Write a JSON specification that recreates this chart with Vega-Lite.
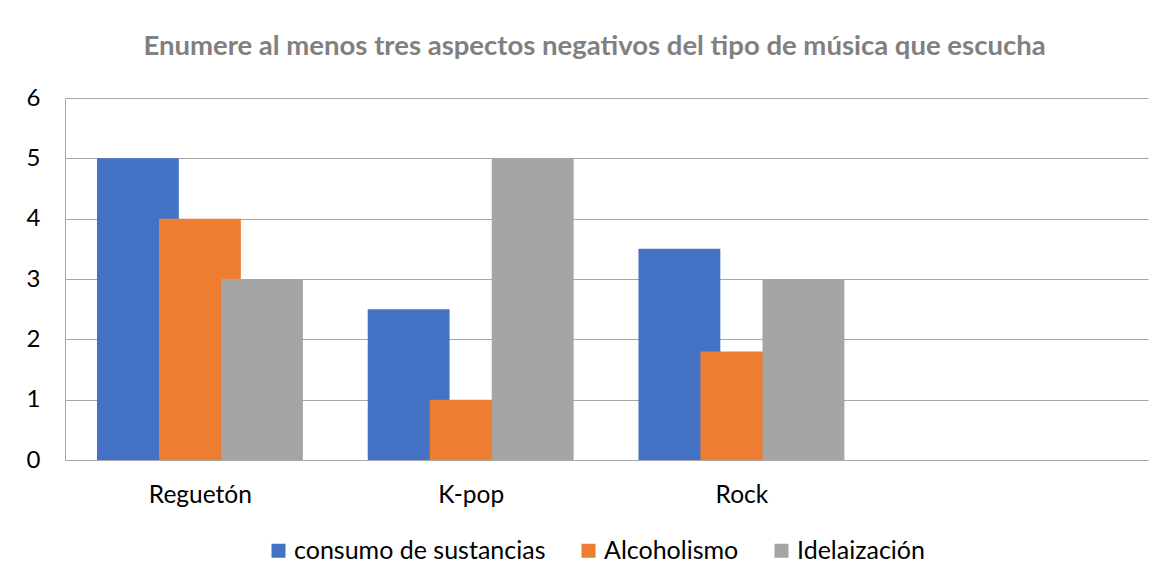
{
  "$schema": "https://vega.github.io/schema/vega-lite/v6.json",
  "width": 1083,
  "height": 362,
  "autosize": {"type": "none"},
  "padding": {"left": 65, "top": 98, "right": 23, "bottom": 126},
  "background": "white",
  "title": {
    "text": "Enumere al menos tres aspectos negativos del tipo de música que escucha",
    "font": "Lato",
    "fontSize": 27.5,
    "fontWeight": "bold",
    "color": "#808080",
    "anchor": "middle",
    "frame": "group",
    "baseline": "alphabetic",
    "offset": 4,
    "dx": -12
  },
  "data": {
    "values": [
      {"categoria": "Reguetón", "serie": "consumo de sustancias", "valor": 5},
      {"categoria": "Reguetón", "serie": "Alcoholismo", "valor": 4},
      {"categoria": "Reguetón", "serie": "Idelaización", "valor": 3},
      {"categoria": "K-pop", "serie": "consumo de sustancias", "valor": 2.5},
      {"categoria": "K-pop", "serie": "Alcoholismo", "valor": 1},
      {"categoria": "K-pop", "serie": "Idelaización", "valor": 5},
      {"categoria": "Rock", "serie": "consumo de sustancias", "valor": 3.5},
      {"categoria": "Rock", "serie": "Alcoholismo", "valor": 1.8},
      {"categoria": "Rock", "serie": "Idelaización", "valor": 3}
    ]
  },
  "mark": {"type": "bar", "width": {"band": 1.32}},
  "encoding": {
    "x": {
      "field": "categoria",
      "type": "nominal",
      "sort": null,
      "scale": {"domain": ["Reguetón", "K-pop", "Rock", ""], "paddingInner": 0, "paddingOuter": 0},
      "axis": {
        "title": null,
        "labelAngle": 0,
        "ticks": false,
        "domainColor": "#a6a6a6",
        "domainWidth": 1,
        "labelFont": "Lato",
        "labelFontSize": 24.5,
        "labelColor": "#000000",
        "labelPadding": 42,
        "labelBaseline": "alphabetic"
      }
    },
    "xOffset": {
      "field": "serie",
      "type": "nominal",
      "scale": {"domain": ["consumo de sustancias", "Alcoholismo", "Idelaización"], "paddingInner": 0, "paddingOuter": 0.683, "align": 0.889}
    },
    "y": {
      "field": "valor",
      "type": "quantitative",
      "scale": {"domain": [0, 6], "nice": false},
      "axis": {
        "title": null,
        "values": [0, 1, 2, 3, 4, 5, 6],
        "ticks": false,
        "grid": true,
        "gridColor": "#a6a6a6",
        "gridWidth": 1,
        "domain": true,
        "domainColor": "#a6a6a6",
        "labelFont": "Lato",
        "labelFontSize": 24,
        "labelColor": "#000000",
        "labelPadding": 25
      }
    },
    "color": {
      "field": "serie",
      "type": "nominal",
      "scale": {
        "domain": ["consumo de sustancias", "Alcoholismo", "Idelaización"],
        "range": ["#4472C4", "#ED7D31", "#A5A5A5"]
      },
      "legend": {
        "title": null,
        "orient": "none",
        "direction": "horizontal",
        "legendX": 201,
        "legendY": 440,
        "padding": 0,
        "symbolType": "square",
        "symbolSize": 196,
        "symbolStrokeWidth": 0,
        "symbolOpacity": 1,
        "labelFont": "Lato",
        "labelFontSize": 25,
        "labelColor": "#000000",
        "labelOffset": 3,
        "labelLimit": 400,
        "columnPadding": 30
      }
    }
  },
  "config": {
    "font": "Lato",
    "view": {"stroke": null}
  }
}
